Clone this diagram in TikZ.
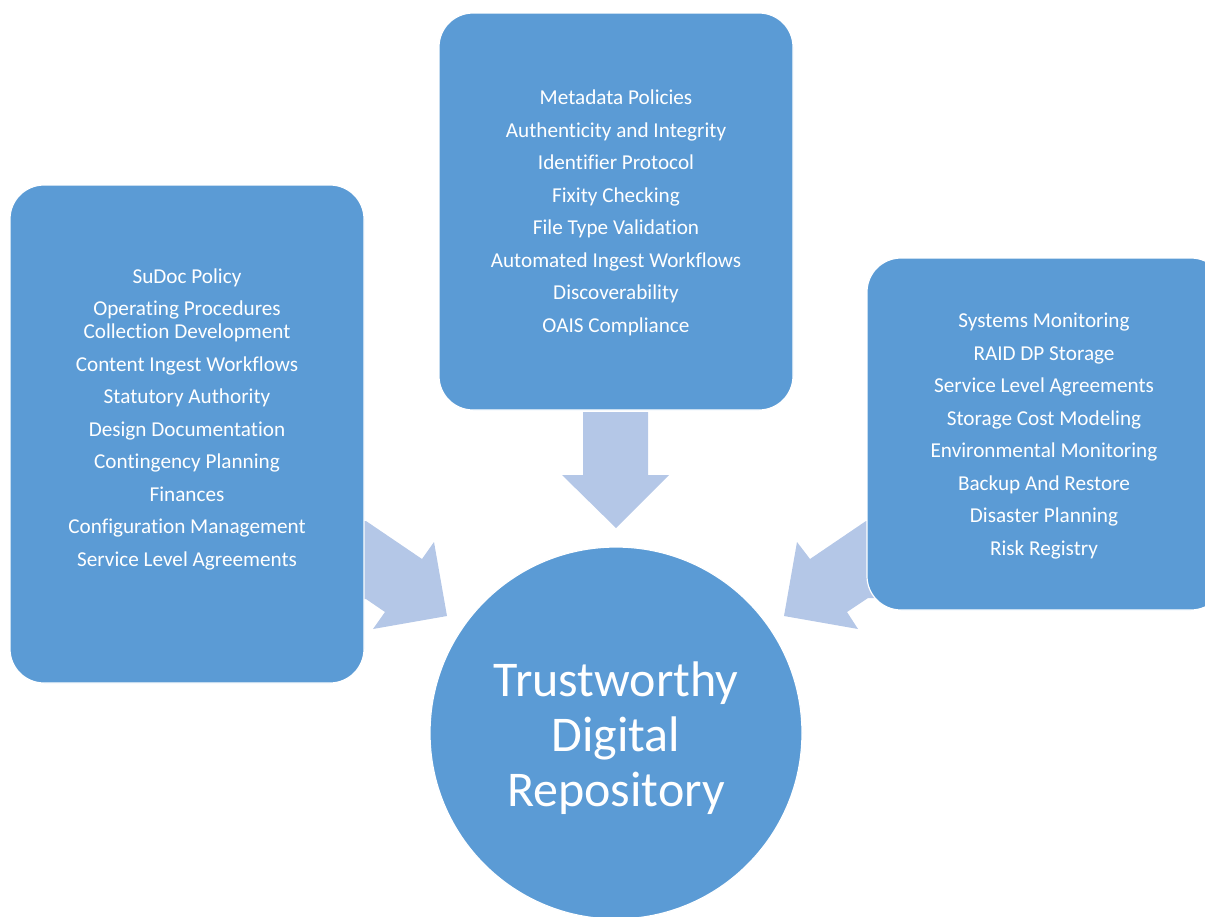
\documentclass[tikz,border=0pt]{standalone}
\usepackage{fontspec}
\setmainfont[Ligatures=NoCommon]{Carlito}
\usetikzlibrary{shapes.geometric}
\definecolor{boxblue}{HTML}{5B9BD5}
\definecolor{arrowblue}{HTML}{B4C7E7}
\tikzset{
  panel/.style={draw=white, line width=1.2pt, fill=boxblue, rounded corners=34pt, inner sep=0pt},
  itemtext/.style={text=white, align=center, font=\fontsize{21.2}{32.5}\selectfont, inner sep=0pt},
  bigtext/.style={text=white, align=center, font=\fontsize{50}{55}\selectfont, inner sep=0pt},
  blockarrow/.style={fill=arrowblue, draw=none}
}
\begin{document}
\begin{tikzpicture}[x=1pt,y=-1pt]
\useasboundingbox (0,0) rectangle (1205,916);
% block arrows (drawn below the panels)
\fill[blockarrow] (583,412) -- (648,412) -- (648,475) -- (669,475) -- (616,528) -- (562,475) -- (583,475) -- cycle;
\fill[blockarrow] (350,521) -- (366,521) -- (422,559) -- (434,542) -- (447,616) -- (373,629) -- (385,612) -- (366,599) -- (350,599) -- cycle;
\fill[blockarrow] (882,521) -- (866,521) -- (810,559) -- (797,542) -- (784,616) -- (858,629) -- (847,612) -- (868,598) -- (882,598) -- cycle;
% panels
\draw[panel] (10,185) rectangle (364,683);
\draw[panel] (439,13) rectangle (793,410);
\draw[panel] (867,258) rectangle (1225,610);
\node[itemtext] (ltext) at (187,419) {SuDoc Policy\\Operating Procedures\\[-9.5pt]Collection Development\\Content Ingest Workflows\\Statutory Authority\\Design Documentation\\Contingency Planning\\Finances\\Configuration Management\\Service Level Agreements};
\node[itemtext] (ttext) at (616,213) {Metadata Policies\\Authenticity and Integrity\\Identifier Protocol\\Fixity Checking\\File Type Validation\\Automated Ingest Workflows\\Discoverability\\OAIS Compliance};
\node[itemtext] (rtext) at (1044,436) {Systems Monitoring\\RAID DP Storage\\Service Level Agreements\\Storage Cost Modeling\\Environmental Monitoring\\Backup And Restore\\Disaster Planning\\Risk Registry};
% centre circle
\node[circle, fill=boxblue, draw=white, line width=1.2pt, minimum size=372pt, inner sep=0pt] (hub) at (616,733) {};
\node[bigtext] (hubtext) at (616,738) {Trustworthy\\Digital\\Repository};
\end{tikzpicture}
\end{document}
